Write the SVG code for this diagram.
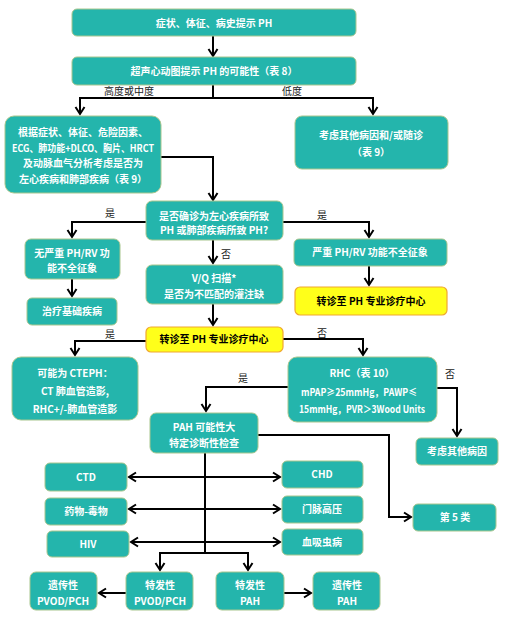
<svg xmlns="http://www.w3.org/2000/svg" width="511" height="622" viewBox="0 0 511 622">
<defs>
<marker id="arr" markerUnits="userSpaceOnUse" markerWidth="12" markerHeight="12" refX="8" refY="6" orient="auto-start-reverse" viewBox="0 0 12 12">
<path d="M1,1.5 L8,6 L1,10.5" fill="none" stroke="#000" stroke-width="2"/>
</marker>
</defs>
<style>
.n{fill:#24b5ac;stroke:#a8c68e;stroke-width:1}
.y{fill:#ffff1a;stroke:#f0a830;stroke-width:1.2}
.t{font-family:"Noto Sans CJK SC","Noto Sans",sans-serif;font-size:10px;font-weight:bold;fill:#fff;text-anchor:middle}
.tb{font-family:"Noto Sans CJK SC","Noto Sans",sans-serif;font-size:10px;font-weight:bold;fill:#000;text-anchor:middle}
.l{font-family:"Noto Sans CJK SC","Noto Sans",sans-serif;font-size:10px;fill:#222;text-anchor:middle}
.c{fill:none;stroke:#000;stroke-width:2}
.a{fill:none;stroke:#000;stroke-width:2;marker-end:url(#arr)}
.ab{fill:none;stroke:#000;stroke-width:2;marker-end:url(#arr);marker-start:url(#arr)}
</style>
<g id="connectors">
<path class="a" d="M213,36 V56"/>
<path class="c" d="M213,85 V98"/>
<path class="a" d="M80,98 H373 M80,97 V114"/>
<path class="a" d="M373,97 V114"/>
<path class="a" d="M161,157 H213 V200"/>
<path class="a" d="M146,222 H72 V237"/>
<path class="a" d="M283,222 H369 V237"/>
<path class="a" d="M72,279 V296"/>
<path class="a" d="M369,266 V285"/>
<path class="a" d="M213,240 V263"/>
<path class="a" d="M213,304 V325"/>
<path class="a" d="M146,341 H75 V355"/>
<path class="a" d="M283,339 H363 V355"/>
<path class="a" d="M437,388 H457 V436"/>
<path class="a" d="M288,387 H206 V411"/>
<path class="a" d="M258,435 H389 V517 H411"/>
<path class="c" d="M205,453 V553"/>
<path class="a" d="M160,553 H248 M160,552 V570"/>
<path class="a" d="M248,552 V570"/>
<path class="ab" d="M129,477 H280"/>
<path class="ab" d="M129,509 H280"/>
<path class="ab" d="M131,542 H280"/>
<path class="a" d="M126,593 H99"/>
<path class="a" d="M284,593 H311"/>
<text class="l" x="129" y="95">高度或中度</text>
<text class="l" x="292" y="95">低度</text>
<text class="l" x="110" y="217">是</text>
<text class="l" x="322" y="219">是</text>
<text class="l" x="226" y="258">否</text>
<text class="l" x="110" y="338">是</text>
<text class="l" x="322" y="337">否</text>
<text class="l" x="243" y="382">是</text>
<text class="l" x="450" y="378">否</text>
</g>
<g id="n1"><rect class="n" x="72" y="9" width="284" height="27" rx="5"/><text class="t" x="214" y="27">症状、体征、病史提示 PH</text></g>
<g id="n2"><rect class="n" x="72" y="57" width="284" height="28" rx="5"/><text class="t" x="214" y="75">超声心动图提示 PH 的可能性（表 8）</text></g>
<g id="n3"><rect class="n" x="5" y="116" width="156" height="77" rx="9"/>
<text class="t" x="83" y="136">根据症状、体征、危险因素、</text>
<text class="t" x="83" y="152" textLength="142" lengthAdjust="spacingAndGlyphs">ECG、肺功能+DLCO、胸片、HRCT</text>
<text class="t" x="83" y="167">及动脉血气分析考虑是否为</text>
<text class="t" x="83" y="183">左心疾病和肺部疾病（表 9）</text></g>
<g id="n4"><rect class="n" x="295" y="116" width="153" height="53" rx="7"/>
<text class="t" x="371" y="139">考虑其他病因和/或随诊</text>
<text class="t" x="371" y="156">（表 9）</text></g>
<g id="n5"><rect class="n" x="146" y="201" width="137" height="39" rx="6"/>
<text class="t" x="214" y="220">是否确诊为左心疾病所致</text>
<text class="t" x="214" y="234">PH 或肺部疾病所致 PH?</text></g>
<g id="n6"><rect class="n" x="25" y="239" width="95" height="40" rx="6"/>
<text class="t" x="72" y="257">无严重 PH/RV 功</text>
<text class="t" x="72" y="272">能不全征象</text></g>
<g id="n7"><rect class="n" x="27" y="298" width="90" height="27" rx="5"/><text class="t" x="72" y="315">治疗基础疾病</text></g>
<g id="n8"><rect class="n" x="294" y="239" width="153" height="27" rx="5"/><text class="t" x="370" y="256">严重 PH/RV 功能不全征象</text></g>
<g id="n9"><rect class="y" x="295" y="287" width="152" height="28" rx="5"/><text class="tb" x="371" y="305">转诊至 PH 专业诊疗中心</text></g>
<g id="n10"><rect class="n" x="146" y="265" width="137" height="39" rx="6"/>
<text class="t" x="214" y="282">V/Q 扫描*</text>
<text class="t" x="214" y="298">是否为不匹配的灌注缺</text></g>
<g id="n11"><rect class="y" x="146" y="327" width="137" height="25" rx="5"/><text class="tb" x="214" y="343">转诊至 PH 专业诊疗中心</text></g>
<g id="n12"><rect class="n" x="12" y="357" width="126" height="63" rx="9"/>
<text class="t" x="75" y="377">可能为 CTEPH：</text>
<text class="t" x="75" y="395">CT 肺血管造影,</text>
<text class="t" x="75" y="413">RHC+/-肺血管造影</text></g>
<g id="n13"><rect class="n" x="288" y="357" width="149" height="65" rx="9"/>
<text class="t" x="362" y="377">RHC（表 10）</text>
<text class="t" x="359" y="396" textLength="116" lengthAdjust="spacingAndGlyphs">mPAP≥25mmHg，PAWP≤</text>
<text class="t" x="362" y="413" textLength="126" lengthAdjust="spacingAndGlyphs">15mmHg，PVR＞3Wood Units</text></g>
<g id="n14"><rect class="n" x="416" y="438" width="82" height="27" rx="5"/><text class="t" x="457" y="455">考虑其他病因</text></g>
<g id="n15"><rect class="n" x="150" y="413" width="108" height="40" rx="6"/>
<text class="t" x="204" y="431">PAH 可能性大</text>
<text class="t" x="204" y="447">特定诊断性检查</text></g>
<g id="n16"><rect class="n" x="413" y="504" width="83" height="27" rx="5"/><text class="t" x="455" y="521">第 5 类</text></g>
<g id="n17"><rect class="n" x="45" y="463" width="82" height="28" rx="5"/><text class="t" x="86" y="481">CTD</text></g>
<g id="n18"><rect class="n" x="45" y="498" width="82" height="27" rx="5"/><text class="t" x="86" y="515">药物-毒物</text></g>
<g id="n19"><rect class="n" x="47" y="531" width="82" height="26" rx="5"/><text class="t" x="88" y="548">HIV</text></g>
<g id="n20"><rect class="n" x="282" y="461" width="81" height="27" rx="5"/><text class="t" x="322" y="478">CHD</text></g>
<g id="n21"><rect class="n" x="282" y="496" width="81" height="27" rx="5"/><text class="t" x="322" y="513">门脉高压</text></g>
<g id="n22"><rect class="n" x="282" y="529" width="81" height="26" rx="5"/><text class="t" x="322" y="546">血吸虫病</text></g>
<g id="n23"><rect class="n" x="30" y="572" width="67" height="38" rx="6"/>
<text class="t" x="63" y="589">遗传性</text><text class="t" x="63" y="605">PVOD/PCH</text></g>
<g id="n24"><rect class="n" x="126" y="572" width="67" height="38" rx="6"/>
<text class="t" x="160" y="589">特发性</text><text class="t" x="160" y="605">PVOD/PCH</text></g>
<g id="n25"><rect class="n" x="216" y="572" width="68" height="38" rx="6"/>
<text class="t" x="250" y="589">特发性</text><text class="t" x="250" y="605">PAH</text></g>
<g id="n26"><rect class="n" x="313" y="572" width="67" height="38" rx="6"/>
<text class="t" x="347" y="589">遗传性</text><text class="t" x="347" y="605">PAH</text></g>
</svg>
